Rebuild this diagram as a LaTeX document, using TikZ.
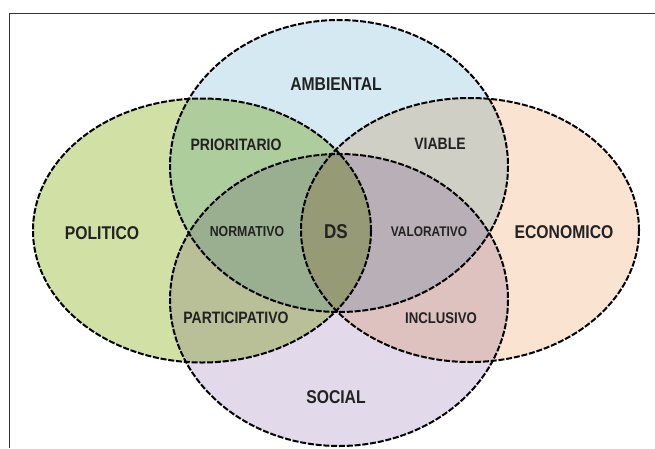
\documentclass[tikz,border=0pt]{standalone}
\usepackage{fontspec}
\setmainfont{Liberation Sans}
\newfontfamily\vennfont[FakeStretch=0.85]{Liberation Sans}
\usepackage{xcolor}
\definecolor{ambcol}{RGB}{212,233,242}
\definecolor{polcol}{RGB}{209,225,165}
\definecolor{ecocol}{RGB}{251,227,209}
\definecolor{soccol}{RGB}{226,218,235}
\definecolor{capcol}{RGB}{34,34,34}
\tikzset{vennline/.style={black,line width=2pt,dash pattern=on 6pt off 1.8pt}}
\newcommand{\venncaption}[4][16.5]{\node[font=\vennfont\bfseries\fontsize{#1}{#1}\selectfont,text=capcol,inner sep=0pt] (#2) at (#3) {#4};}

\begin{document}
\begin{tikzpicture}[x=1pt,y=-1pt]
        \pgfmathsetmacro{\rada}{169}
        \pgfmathsetmacro{\radb}{146}
        \pgfmathsetmacro{\radc}{132}
        \useasboundingbox (0,0) rectangle (655,448);
        \begin{scope}[blend group=multiply]
          \fill[ambcol] (339,166) ellipse [x radius=\rada,y radius=\radb];
          \fill[polcol] (202,230.5) ellipse [x radius=\rada,y radius=\radc];
          \fill[ecocol] (470,230) ellipse [x radius=\rada,y radius=\radc];
          \fill[soccol] (339,300) ellipse [x radius=\rada,y radius=\radb];
        \end{scope}
        \foreach \cx/\cy/\ry in {339/166/\radb,202/230.5/\radc,470/230/\radc,339/300/\radb}
          \draw[vennline] (\cx,\cy) ellipse [x radius=\rada,y radius=\ry];
        \draw[black!80,line width=1pt] (9,448) |- (655,13);
        \venncaption[18.5]{ambiental}{336,84}{AMBIENTAL}
        \venncaption[18.5]{politico}{102,233}{POLITICO}
        \venncaption[18.5]{economico}{564,232}{ECONOMICO}
        \venncaption[18.5]{social}{336,397}{SOCIAL}
        \venncaption{prioritario}{236,145}{PRIORITARIO}
        \venncaption{viable}{440,144}{VIABLE}
        \venncaption{participativo}{236,318}{PARTICIPATIVO}
        \venncaption[15.5]{inclusivo}{441,318}{INCLUSIVO}
        \venncaption[14.5]{normativo}{247,232}{NORMATIVO}
        \venncaption[14]{valorativo}{429,232}{VALORATIVO}
        \venncaption[20]{ds}{336,232}{DS}
      \end{tikzpicture}
\end{document}
